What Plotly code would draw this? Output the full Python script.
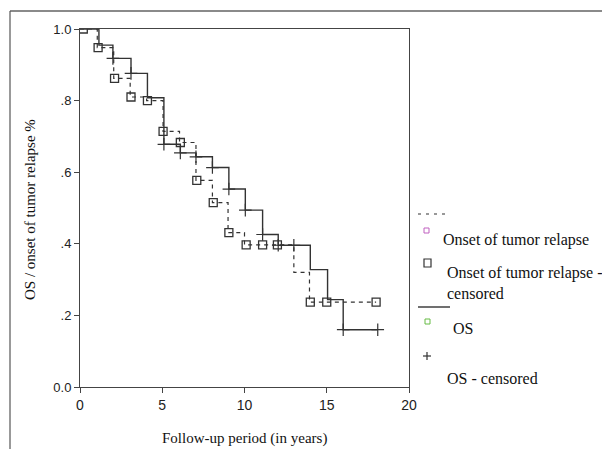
import plotly.graph_objects as go

# ---- data ----
relapse_t = [0, 1.05, 2.05, 3.05, 4.05, 5.05, 6.05, 7.05, 8.05, 9.0, 10.0, 13.0, 13.95, 18.0]
relapse_s = [1.0, 0.948, 0.862, 0.81, 0.80, 0.714, 0.683, 0.577, 0.515, 0.431, 0.397, 0.32, 0.237, 0.237]

relapse_cens_t = [0.2, 1.1, 2.1, 3.1, 4.1, 5.05, 6.1, 7.1, 8.1, 9.05, 10.1, 11.1, 12.0, 14.0, 15.0, 18.0]
relapse_cens_s = [1.0, 0.948, 0.862, 0.81, 0.80, 0.714, 0.683, 0.577, 0.515, 0.431, 0.397, 0.397, 0.397, 0.237, 0.237, 0.237]

os_t = [0, 1.15, 2.0, 3.1, 4.1, 5.1, 6.1, 7.05, 8.05, 9.05, 10.05, 11.1, 12.05, 14.0, 15.05, 16.0, 18.1]
os_s = [1.0, 0.955, 0.918, 0.876, 0.808, 0.678, 0.654, 0.643, 0.613, 0.553, 0.494, 0.426, 0.396, 0.328, 0.244, 0.16, 0.16]

os_cens_t = [2.0, 3.1, 5.1, 6.1, 7.05, 8.05, 9.05, 10.05, 11.1, 12.05, 13.0, 16.0, 18.1]
os_cens_s = [0.918, 0.876, 0.678, 0.654, 0.643, 0.613, 0.553, 0.494, 0.426, 0.396, 0.396, 0.16, 0.16]

x_ticks = [0, 5, 10, 15, 20]
y_ticks = [0.0, 0.2, 0.4, 0.6, 0.8, 1.0]
y_tick_labels = ["0.0", ".2", ".4", ".6", ".8", "1.0"]

legend_labels = ["Onset of tumor relapse", "Onset of tumor relapse -<br>censored", "OS", "OS - censored"]

LINE = "#333333"
SERIF = "Liberation Serif, Times New Roman, serif"
SANS = "Liberation Sans, Arial, sans-serif"

fig = go.Figure()
fig.add_trace(go.Scatter(x=relapse_t, y=relapse_s, mode="lines", line_shape="hv",
                         line=dict(color=LINE, width=1.2, dash="4px,4px"), showlegend=False))
fig.add_trace(go.Scatter(x=os_t, y=os_s, mode="lines", line_shape="hv",
                         line=dict(color=LINE, width=1.4), showlegend=False))
fig.add_trace(go.Scatter(x=relapse_cens_t, y=relapse_cens_s, mode="markers",
                         marker=dict(symbol="square-open", size=8, color=LINE, line=dict(width=1.3)),
                         showlegend=False))
fig.add_trace(go.Scatter(x=os_cens_t, y=os_cens_s, mode="markers",
                         marker=dict(symbol="cross-thin-open", size=9, color=LINE, line=dict(width=1.2, color=LINE)),
                         showlegend=False))

OFF = 8  # page body margin
L, R, T, B = 80, 409, 29, 387   # plot area in page pixels
PW, PH = 610, 449
W, H = PW - OFF, PH - OFF

def px(x):
    return (x - L) / (R - L)

def py(y):
    return (B - y) / (B - T)

shapes = []
annotations = []
# outer frame lines (top and left)
shapes.append(dict(type="line", xref="paper", yref="paper", x0=px(10), x1=px(612), y0=py(11), y1=py(11),
                   line=dict(color="#8a8a8a", width=2)))
shapes.append(dict(type="line", xref="paper", yref="paper", x0=px(10), x1=px(10), y0=py(11), y1=py(451),
                   line=dict(color="#555555", width=1.2)))
# legend samples
shapes.append(dict(type="line", xref="paper", yref="paper", x0=px(418), x1=px(450), y0=py(214), y1=py(214),
                   line=dict(color=LINE, width=1.2, dash="3px,5px")))
shapes.append(dict(type="rect", xref="paper", yref="paper", x0=px(424), x1=px(429), y0=py(228), y1=py(233),
                   line=dict(color="#c060c0", width=1)))
shapes.append(dict(type="rect", xref="paper", yref="paper", x0=px(424), x1=px(431), y0=py(259), y1=py(267),
                   line=dict(color="#333333", width=1.2)))
shapes.append(dict(type="line", xref="paper", yref="paper", x0=px(418), x1=px(450), y0=py(307), y1=py(307),
                   line=dict(color=LINE, width=1.4)))
shapes.append(dict(type="rect", xref="paper", yref="paper", x0=px(425), x1=px(430), y0=py(319), y1=py(324),
                   line=dict(color="#66bb44", width=1)))
shapes.append(dict(type="line", xref="paper", yref="paper", x0=px(423), x1=px(431), y0=py(356), y1=py(356),
                   line=dict(color=LINE, width=1.2)))
shapes.append(dict(type="line", xref="paper", yref="paper", x0=px(427), x1=px(427), y0=py(352), y1=py(360),
                   line=dict(color=LINE, width=1.2)))

leg_pos = [(441, 240), (445, 283), (451, 328), (445, 378)]
for (lx, ly), lab in zip(leg_pos, legend_labels):
    annotations.append(dict(xref="paper", yref="paper", x=px(lx), y=py(ly), xanchor="left", yanchor="middle",
                            text=lab, showarrow=False, align="left",
                            font=dict(family=SERIF, size=16, color="#111111")))

# axis titles
annotations.append(dict(xref="paper", yref="paper", x=px(244), y=py(438), xanchor="center", yanchor="middle",
                        text="Follow-up period (in years)", showarrow=False,
                        font=dict(family=SERIF, size=15, color="#111111")))
annotations.append(dict(xref="paper", yref="paper", x=px(30), y=py(210), xanchor="center", yanchor="middle",
                        text="OS / onset of tumor relapse %", showarrow=False, textangle=-90,
                        font=dict(family=SERIF, size=15, color="#111111")))

fig.update_layout(
    width=W, height=H,
    margin=dict(l=L - OFF, r=W - (R - OFF), t=T - OFF, b=H - (B - OFF), pad=0),
    paper_bgcolor="white", plot_bgcolor="white",
    shapes=shapes, annotations=annotations,
    xaxis=dict(range=[0, 20], tickvals=x_ticks, ticktext=[str(v) for v in x_ticks],
               showgrid=False, zeroline=False, showline=True, linecolor="#444444", linewidth=1,
               mirror=True, ticks="outside", ticklen=5, tickcolor="#444444",
               tickfont=dict(family=SANS, size=14, color="#222222")),
    yaxis=dict(range=[0, 1], tickvals=y_ticks, ticktext=y_tick_labels,
               showgrid=False, zeroline=False, showline=True, linecolor="#444444", linewidth=1,
               mirror=True, ticks="outside", ticklen=5, tickcolor="#444444",
               tickfont=dict(family=SANS, size=13, color="#222222")),
)

fig.write_html("out.html")
